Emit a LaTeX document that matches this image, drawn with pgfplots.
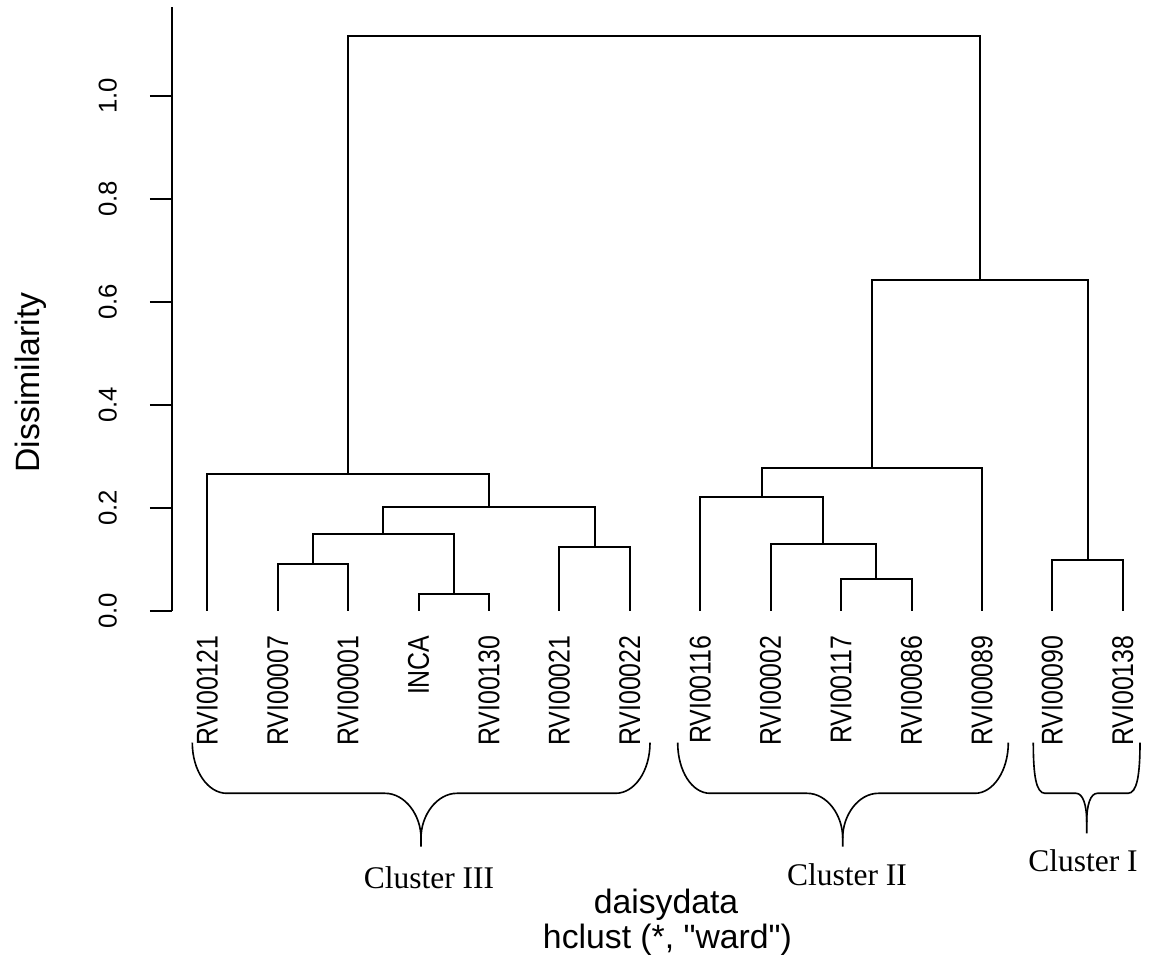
\documentclass[border=0pt]{standalone}
\usepackage{fontspec}
\setmainfont{Liberation Sans}
\newfontfamily\rsans{Liberation Sans}
\newfontfamily\narrowsans[FakeStretch=0.83]{Liberation Sans}
\newfontfamily\timesfont{Liberation Serif}
\usepackage{pgfplots}
\pgfplotsset{compat=1.18}
\begin{document}
\begin{tikzpicture}[dendro/.style={black, solid, line width=0.8pt, mark=none}]
\begin{axis}[
  at={(68.68pt,-244.28pt)}, anchor=south west,
  scale only axis, width=390.92pt, height=241.36pt,
  xmin=0.4945, xmax=14.3726, ymin=0, ymax=1.1723,
  clip=false,
  axis x line*=bottom, axis y line*=left,
  x axis line style={draw=none},
  y axis line style={line width=0.8pt},
  xtick={1,2,3,4,5,6,7,8,9,10,11,12,13,14},
  xticklabels={RVI00121,RVI00007,RVI00001,INCA,RVI00130,RVI00021,RVI00022,RVI00116,RVI00002,RVI00117,RVI00086,RVI00089,RVI00090,RVI00138},
  xtick style={draw=none},
  xticklabel style={rotate=90, anchor=east, inner sep=0pt, font=\narrowsans\fontsize{12}{14}\selectfont},
  xticklabel shift=9.7pt,
  ytick={0,0.2,0.4,0.6,0.8,1},
  yticklabels={0.0,0.2,0.4,0.6,0.8,1.0},
  ytick align=outside, major tick length=8.68pt,
  ytick style={line width=0.8pt, black},
  yticklabel style={rotate=90, anchor=south, inner sep=0pt, font=\fontsize{10.3}{12}\selectfont},
  yticklabel shift=13.08pt,
  ylabel={Dissimilarity},
  ylabel style={at={(rel axis cs:-0.1348,0.3782)}, anchor=base, inner sep=0pt, font=\fontsize{13.5}{16}\selectfont},
  xlabel={daisydata},
  xlabel style={at={(rel axis cs:0.5058,-0.501)}, anchor=base, inner sep=0pt, font=\fontsize{13.5}{16}\selectfont},
]
% Cluster III
\addplot[dendro] coordinates {(2,0) (2,0.0901) (3,0.0901) (3,0)};
\addplot[dendro] coordinates {(4,0) (4,0.0324) (5,0.0324) (5,0)};
\addplot[dendro] coordinates {(2.5,0.0901) (2.5,0.1484) (4.5,0.1484) (4.5,0.0324)};
\addplot[dendro] coordinates {(6,0) (6,0.1243) (7,0.1243) (7,0)};
\addplot[dendro] coordinates {(3.5,0.1484) (3.5,0.2021) (6.5,0.2021) (6.5,0.1243)};
\addplot[dendro] coordinates {(1,0) (1,0.2656) (5,0.2656) (5,0.2021)};
% Cluster II
\addplot[dendro] coordinates {(10,0) (10,0.0622) (11,0.0622) (11,0)};
\addplot[dendro] coordinates {(9,0) (9,0.1290) (10.5,0.1290) (10.5,0.0622)};
\addplot[dendro] coordinates {(8,0) (8,0.2215) (9.75,0.2215) (9.75,0.1290)};
\addplot[dendro] coordinates {(8.875,0.2215) (8.875,0.2767) (12,0.2767) (12,0)};
% Cluster I
\addplot[dendro] coordinates {(13,0) (13,0.0979) (14,0.0979) (14,0)};
% upper merges
\addplot[dendro] coordinates {(10.4375,0.2767) (10.4375,0.6425) (13.5,0.6425) (13.5,0.0979)};
\addplot[dendro] coordinates {(3,0.2656) (3,1.117) (11.96875,1.117) (11.96875,0.6425)};
\end{axis}
\begin{scope}[x=0.4pt, y=-0.4pt, line width=0.65pt]
% braces
\draw (192.3,742.7) .. controls (192.3,771) and (208,793.3) .. (226.7,793.3) -- (385,793.3)
      .. controls (405,793.3) and (421,815) .. (421,838) -- (421,846.7);
\draw (421,838) .. controls (421,815) and (437,793.3) .. (457,793.3) -- (615.6,793.3)
      .. controls (634.6,793.3) and (650,771) .. (650,742.7);
\draw (677.7,742.7) .. controls (677.7,771) and (692,793.3) .. (710,793.3) -- (807,793.3)
      .. controls (827,793.3) and (842.7,815) .. (842.7,838) -- (842.7,846.7);
\draw (842.7,838) .. controls (842.7,815) and (858.4,793.3) .. (878.4,793.3) -- (975,793.3)
      .. controls (993,793.3) and (1008.3,771) .. (1008.3,742.7);
\draw (1033.3,742.7) .. controls (1033.3,775) and (1036,793.3) .. (1045,793.3) -- (1076,793.3)
      .. controls (1083,793.3) and (1086.7,805) .. (1086.7,822) -- (1086.7,833.3);
\draw (1086.7,822) .. controls (1086.7,805) and (1090.4,793.3) .. (1097.4,793.3) -- (1128,793.3)
      .. controls (1137,793.3) and (1140,775) .. (1140,742.7);
\node[anchor=base, inner sep=0pt, font=\timesfont\fontsize{12.6}{15}\selectfont] at (429,888) {Cluster III};
\node[anchor=base, inner sep=0pt, font=\timesfont\fontsize{12.6}{15}\selectfont] at (847,885) {Cluster II};
\node[anchor=base, inner sep=0pt, font=\timesfont\fontsize{12.6}{15}\selectfont] at (1083,871.7) {Cluster I};
\node[anchor=base, inner sep=0pt, font=\rsans\fontsize{13.5}{16}\selectfont] at (667.5,948) {hclust (*, "ward")};
\end{scope}
\pgfresetboundingbox
\path[use as bounding box] (0,0) rectangle (459.6pt,-385.6pt);
\end{tikzpicture}
\end{document}
